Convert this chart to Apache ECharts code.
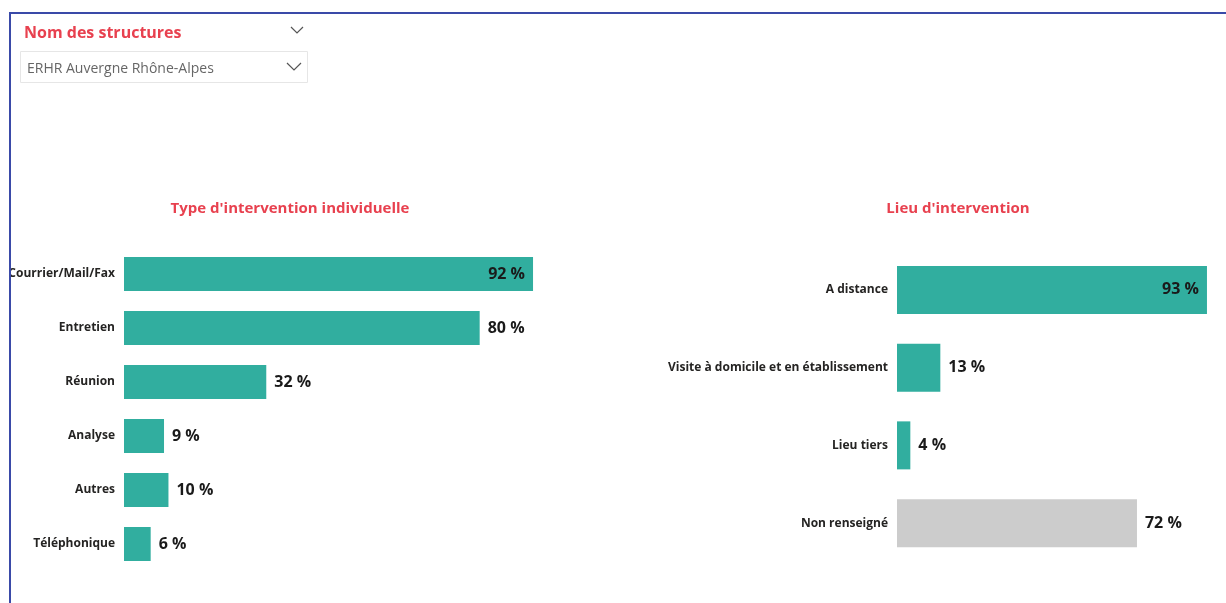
<!DOCTYPE html>
<html>
<head>
<meta charset="utf-8">
<script src="https://cdn.jsdelivr.net/npm/echarts@6/dist/echarts.min.js"></script>
<style>
  html, body { margin: 0; padding: 0; background: #ffffff; }
  #chart { width: 1226px; height: 603px; }
</style>
</head>
<body>
<div id="chart"></div>
<script>
// Type d'intervention individuelle
const typeCategories = ['Courrier/Mail/Fax', 'Entretien', 'Réunion', 'Analyse', 'Autres', 'Téléphonique'];
const typeValues = [92, 80, 32, 9, 10, 6];

// Lieu d'intervention
const lieuCategories = ['A distance', 'Visite à domicile et en établissement', 'Lieu tiers', 'Non renseigné'];
const lieuValues = [93, 13, 4, 72];
const lieuColors = ['#31AE9F', '#31AE9F', '#31AE9F', '#CCCCCC'];

const slicerTitle = 'Nom des structures';
const slicerValue = 'ERHR Auvergne Rhône-Alpes';

const FONT = '"Open Sans", "DejaVu Sans", sans-serif';
const TEAL = '#31AE9F';
const RED = '#E8414F';

function barData(values, colors) {
  const maxV = Math.max(...values);
  return values.map((v, i) => ({
    value: v,
    itemStyle: { color: colors ? colors[i] : TEAL },
    label: v === maxV
      ? { position: 'insideRight', distance: 8 }
      : { position: 'right', distance: 8 }
  }));
}

const labelStyle = {
  show: true,
  formatter: p => p.value + ' %',
  fontFamily: FONT,
  fontWeight: 'bold',
  fontSize: 16,
  color: '#1a1a1a'
};

const chart = echarts.init(document.getElementById('chart'), null, { renderer: 'canvas' });

chart.setOption({
  animation: false,
  backgroundColor: '#ffffff',
  grid: [
    { left: 124, top: 247, width: 444.6, height: 324, outerBoundsMode: 'none', containLabel: false },
    { left: 897, top: 251, width: 333.3, height: 311, outerBoundsMode: 'none', containLabel: false }
  ],
  xAxis: [
    { gridIndex: 0, type: 'value', min: 0, max: 100, show: false },
    { gridIndex: 1, type: 'value', min: 0, max: 100, show: false }
  ],
  yAxis: [
    {
      gridIndex: 0, type: 'category', data: typeCategories, inverse: true,
      axisLine: { show: false }, axisTick: { show: false },
      axisLabel: { margin: 9, fontFamily: FONT, fontWeight: 'bold', fontSize: 12, color: '#252423' }
    },
    {
      gridIndex: 1, type: 'category', data: lieuCategories, inverse: true,
      axisLine: { show: false }, axisTick: { show: false },
      axisLabel: { margin: 9, fontFamily: FONT, fontWeight: 'bold', fontSize: 12, color: '#252423' }
    }
  ],
  series: [
    {
      type: 'bar', xAxisIndex: 0, yAxisIndex: 0,
      data: barData(typeValues), barWidth: 34,
      label: labelStyle
    },
    {
      type: 'bar', xAxisIndex: 1, yAxisIndex: 1,
      data: barData(lieuValues, lieuColors), barWidth: 48,
      label: labelStyle
    }
  ],
  graphic: [
    // chart titles
    { type: 'text', x: 290, y: 201, style: { text: "Type d'intervention individuelle", fill: RED, font: 'bold 15px ' + FONT, align: 'center' } },
    { type: 'text', x: 958, y: 201, style: { text: "Lieu d'intervention", fill: RED, font: 'bold 15px ' + FONT, align: 'center' } },
    // slicer header
    { type: 'text', x: 24, y: 25, style: { text: slicerTitle, fill: RED, font: 'bold 16px ' + FONT } },
    { type: 'polyline', shape: { points: [[291, 27], [297, 33], [303, 27]] }, style: { stroke: '#555', lineWidth: 1.2, fill: null } },
    // slicer dropdown
    { type: 'rect', shape: { x: 20.5, y: 51.5, width: 287, height: 31 }, style: { fill: '#fff', stroke: '#E6E6E6', lineWidth: 1 } },
    { type: 'text', x: 27, y: 62, style: { text: slicerValue, fill: '#666666', font: '14px ' + FONT } },
    { type: 'polyline', shape: { points: [[287, 63], [294, 70], [301, 63]] }, style: { stroke: '#555', lineWidth: 1.2, fill: null } },
    // frame
    { type: 'rect', z: 100, shape: { x: 0, y: 0, width: 10, height: 603 }, style: { fill: '#fff' } },
    { type: 'rect', z: 101, shape: { x: 10, y: 13, width: 1230, height: 600 }, style: { fill: null, stroke: '#3A4AA8', lineWidth: 2 } }
  ]
});
</script>
</body>
</html>
